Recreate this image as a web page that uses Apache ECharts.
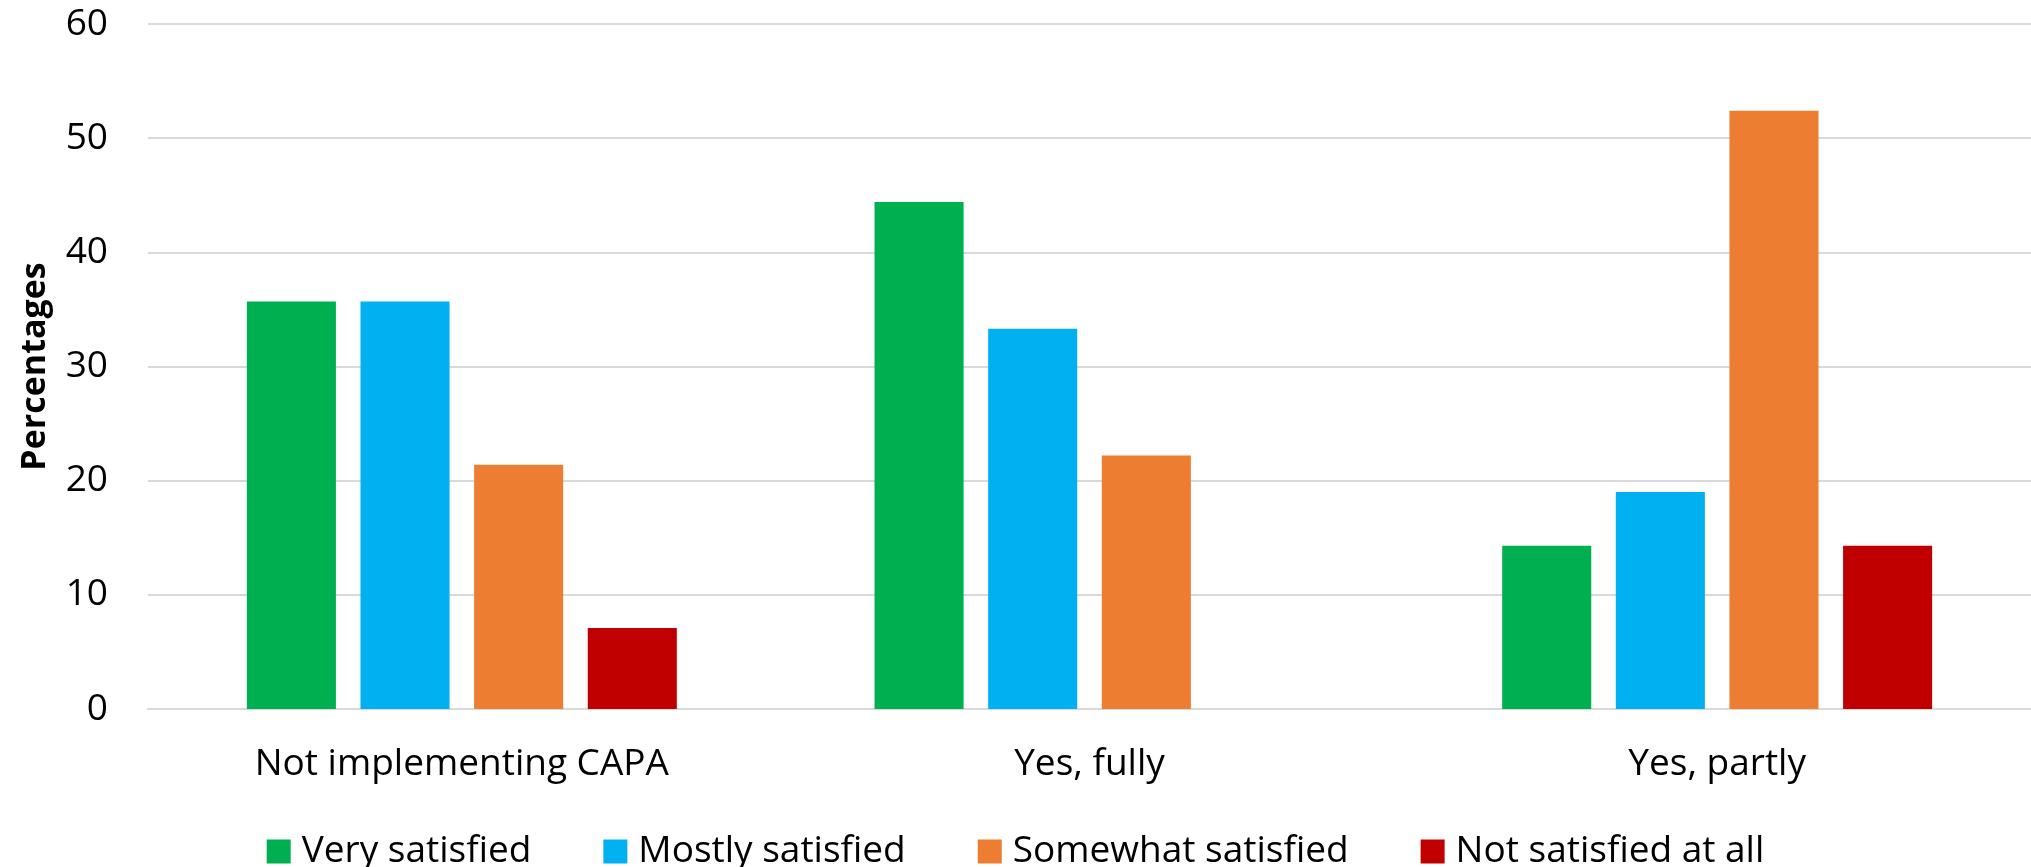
<!DOCTYPE html>
<html>
<head>
<meta charset="utf-8">
<script src="https://cdn.jsdelivr.net/npm/echarts@6/dist/echarts.min.js"></script>
<style>
html,body{margin:0;padding:0;background:#fff;}
#chart{width:2031px;height:867px;}
</style>
</head>
<body>
<div id="chart"></div>
<script>
const categories = ['Not implementing CAPA', 'Yes, fully', 'Yes, partly'];
const seriesNames = ['Very satisfied', 'Mostly satisfied', 'Somewhat satisfied', 'Not satisfied at all'];
const verySatisfied = [35.7, 44.4, 14.3];
const mostlySatisfied = [35.7, 33.3, 19.0];
const somewhatSatisfied = [21.4, 22.2, 52.4];
const notSatisfied = [7.1, 0, 14.3];
const yTicks = [0, 10, 20, 30, 40, 50, 60];
const colors = ['#00B050', '#00B0F0', '#ED7D31', '#C00000'];

const FONT = "'Open Sans', 'DejaVu Sans', sans-serif";
const valuesList = [verySatisfied, mostlySatisfied, somewhatSatisfied, notSatisfied];

const chart = echarts.init(document.getElementById('chart'), null, {renderer: 'canvas'});
chart.setOption({
  animation: false,
  backgroundColor: '#ffffff',
  textStyle: {fontFamily: FONT},
  grid: {left: 148, right: 0, top: 24, bottom: 158, containLabel: false},
  legend: {
    data: seriesNames,
    top: 828,
    left: 'center',
    icon: 'rect',
    itemWidth: 24,
    itemHeight: 24,
    itemGap: 72,
    textStyle: {fontFamily: FONT, fontSize: 37, color: '#000', padding: [0, 0, 0, 6]}
  },
  xAxis: {
    type: 'category',
    data: categories,
    axisLine: {show: true, lineStyle: {color: '#d9d9d9', width: 2}},
    axisTick: {show: false},
    axisLabel: {fontFamily: FONT, fontSize: 37, color: '#000', margin: 37}
  },
  yAxis: {
    type: 'value',
    min: yTicks[0],
    max: yTicks[yTicks.length - 1],
    interval: 10,
    name: 'Percentages',
    nameLocation: 'middle',
    nameGap: 96,
    nameTextStyle: {fontFamily: FONT, fontSize: 34, fontWeight: 'bold', color: '#000'},
    axisLine: {show: false},
    axisTick: {show: false},
    splitLine: {lineStyle: {color: '#d9d9d9', width: 2}},
    axisLabel: {fontFamily: FONT, fontSize: 37, color: '#000', margin: 40}
  },
  series: seriesNames.map((name, i) => ({
    name: name,
    type: 'bar',
    data: valuesList[i],
    barGap: '27.6%',
    barCategoryGap: '31.5%',
    itemStyle: {color: colors[i]}
  }))
});
</script>
</body>
</html>
